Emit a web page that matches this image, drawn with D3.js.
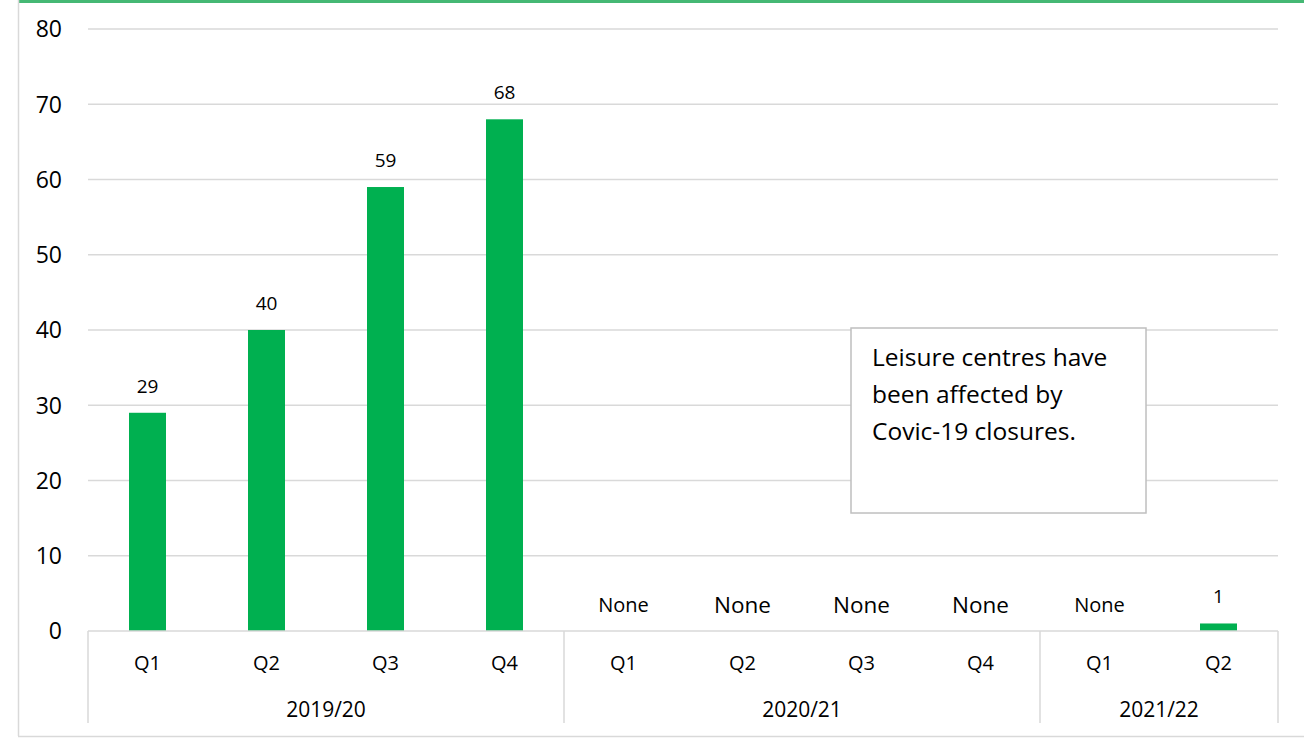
<!DOCTYPE html>
<html>
<head>
<meta charset="utf-8">
<script src="https://cdn.jsdelivr.net/npm/d3@7"></script>
<style>
  body { margin: 0; background: #fff; }
  svg text { font-family: "Open Sans", "Noto Sans", sans-serif; fill: #000; }
</style>
</head>
<body>
<div id="chart"></div>
<script>
// data
const years = ['2019/20', '2020/21', '2021/22'];
const quarters = ['Q1', 'Q2', 'Q3', 'Q4', 'Q1', 'Q2', 'Q3', 'Q4', 'Q1', 'Q2'];
const yearOf = [0, 0, 0, 0, 1, 1, 1, 1, 2, 2];
const values = [29, 40, 59, 68, null, null, null, null, null, 1];
const yTicks = [0, 10, 20, 30, 40, 50, 60, 70, 80];
const noteLines = ['Leisure centres have', 'been affected by', 'Covic-19 closures.'];

const width = 1304, height = 742;
const margin = { top: 29, right: 26, bottom: 111, left: 88 };

const svg = d3.select('#chart').append('svg')
  .attr('width', width)
  .attr('height', height);

// frame
svg.append('line')
  .attr('x1', 18).attr('x2', width).attr('y1', 1.5).attr('y2', 1.5)
  .style('stroke', '#45b874').style('stroke-width', 3);
svg.append('line')
  .attr('x1', 18.5).attr('x2', 18.5).attr('y1', 0).attr('y2', 736)
  .style('stroke', '#d9d9d9').style('stroke-width', 1.5);
svg.append('line')
  .attr('x1', 18).attr('x2', width).attr('y1', 736.5).attr('y2', 736.5)
  .style('stroke', '#d9d9d9').style('stroke-width', 1.5);

const x = d3.scaleBand()
  .domain(d3.range(quarters.length))
  .range([margin.left, width - margin.right]);

const y = d3.scaleLinear()
  .domain([0, 80])
  .range([height - margin.bottom, margin.top]);

// gridlines
svg.append('g')
  .selectAll('line')
  .data(yTicks.filter(d => d > 0))
  .enter().append('line')
    .attr('x1', margin.left).attr('x2', width - margin.right)
    .attr('y1', d => y(d)).attr('y2', d => y(d))
    .style('stroke', '#d9d9d9').style('stroke-width', 1.5);

// y labels
svg.append('g')
  .selectAll('text')
  .data(yTicks)
  .enter().append('text')
    .attr('x', 62)
    .attr('y', d => y(d))
    .attr('dy', '0.36em')
    .attr('text-anchor', 'end')
    .style('font-size', '23px')
    .text(d => d);

// bars
const barW = 37;
svg.append('g')
  .selectAll('rect')
  .data(values.map((v, i) => ({ v, i })).filter(d => d.v != null))
  .enter().append('rect')
    .attr('x', d => x(d.i) + x.bandwidth() / 2 - barW / 2)
    .attr('y', d => y(d.v))
    .attr('width', barW)
    .attr('height', d => y(0) - y(d.v))
    .style('fill', '#00b050');

// value labels
const noneSize = [20, 22.5, 22.5, 22.5, 20];
let noneIdx = 0;
svg.append('g')
  .selectAll('text')
  .data(values.map((v, i) => ({ v, i })))
  .enter().append('text')
    .attr('x', d => x(d.i) + x.bandwidth() / 2)
    .attr('y', d => d.v != null ? y(d.v) - 27 : y(0) - 26)
    .attr('dy', '0.36em')
    .attr('text-anchor', 'middle')
    .style('font-size', d => d.v != null ? '19px' : noneSize[noneIdx++] + 'px')
    .text(d => d.v != null ? d.v : 'None');

// category axis
const axisY = y(0);
const axisBottom = 723;
svg.append('line')
  .attr('x1', margin.left).attr('x2', width - margin.right)
  .attr('y1', axisY).attr('y2', axisY)
  .style('stroke', '#d9d9d9').style('stroke-width', 1.5);

// year group separators
const groupEdges = [0];
yearOf.forEach((g, i) => { if (i > 0 && g !== yearOf[i - 1]) groupEdges.push(i); });
const edgeX = groupEdges.map(i => x(i)).concat([x.range()[1]]);
svg.append('g')
  .selectAll('line')
  .data(edgeX)
  .enter().append('line')
    .attr('x1', d => d).attr('x2', d => d)
    .attr('y1', axisY).attr('y2', axisBottom)
    .style('stroke', '#d9d9d9').style('stroke-width', 1.5);

svg.append('g')
  .selectAll('text')
  .data(quarters)
  .enter().append('text')
    .attr('x', (d, i) => x(i) + x.bandwidth() / 2)
    .attr('y', 663)
    .attr('dy', '0.36em')
    .attr('text-anchor', 'middle')
    .style('font-size', '20px')
    .text(d => d);

svg.append('g')
  .selectAll('text')
  .data(years)
  .enter().append('text')
    .attr('x', (d, g) => (edgeX[g] + edgeX[g + 1]) / 2)
    .attr('y', 709)
    .attr('dy', '0.36em')
    .attr('text-anchor', 'middle')
    .style('font-size', '21px')
    .text(d => d);

// annotation box
const note = svg.append('g').attr('transform', 'translate(851,328)');
note.append('rect')
  .attr('width', 295).attr('height', 185)
  .style('fill', '#fff')
  .style('stroke', '#bfbfbf').style('stroke-width', 1.5);
note.selectAll('text')
  .data(noteLines)
  .enter().append('text')
    .attr('x', 21)
    .attr('y', (d, i) => 29 + i * 37)
    .attr('dy', '0.36em')
    .style('font-size', '24.5px')
    .text(d => d);
</script>
</body>
</html>
